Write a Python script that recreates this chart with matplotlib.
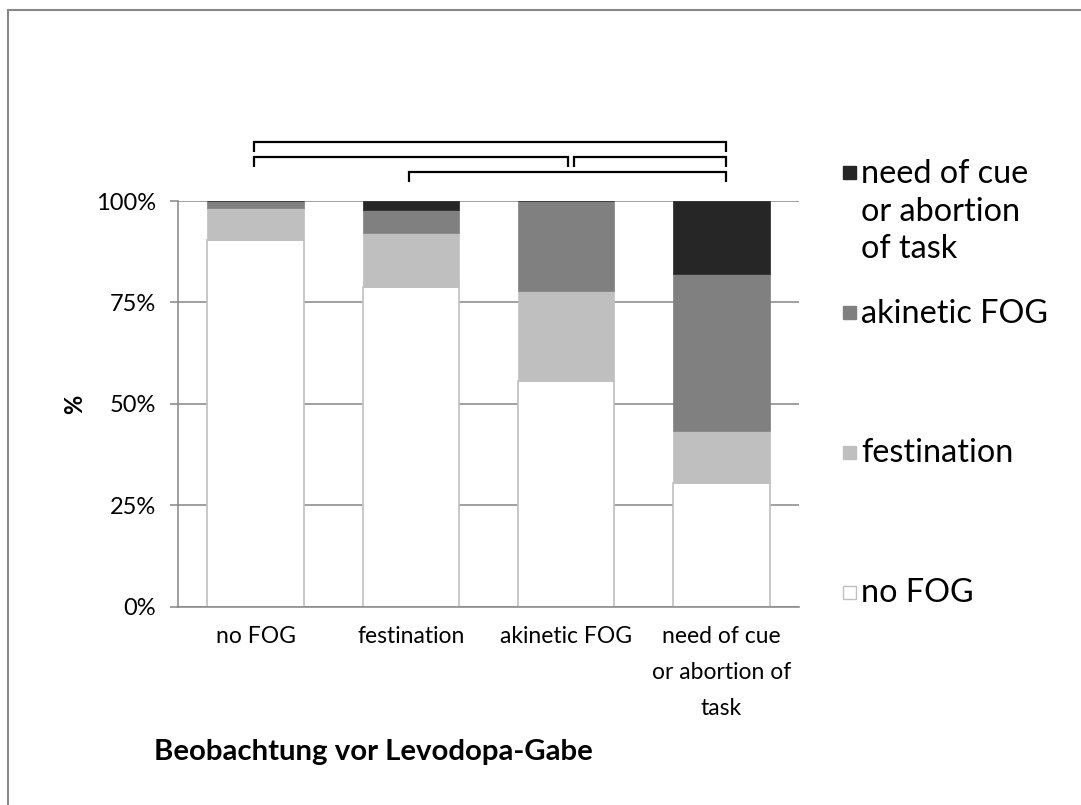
import matplotlib
matplotlib.use("Agg")
import matplotlib.pyplot as plt
from matplotlib.lines import Line2D
from matplotlib.patches import Rectangle
import numpy as np

plt.rcParams['font.family'] = ['Lato', 'DejaVu Sans']

# Observation before levodopa (x groups) and distribution of outcomes (%)
categories = ["no FOG", "festination", "akinetic FOG", "need of cue\nor abortion of\ntask"]
no_fog = [90.3, 78.8, 55.6, 30.4]
festination = [8.0, 13.3, 22.2, 13.0]
akinetic = [1.7, 5.7, 22.2, 38.5]
need_cue = [0.0, 2.2, 0.0, 18.1]

series_names = ["no FOG", "festination", "akinetic FOG", "need of cue\nor abortion\nof task"]
series_values = [no_fog, festination, akinetic, need_cue]
series_colors = ["#ffffff", "#bfbfbf", "#808080", "#262626"]

y_ticks = [0, 25, 50, 75, 100]
y_tick_labels = ["0%", "25%", "50%", "75%", "100%"]

# significance brackets: (from group, to group, level from top)
brackets = [(0, 3, 0), (0, 2, 1), (2, 3, 1), (1, 3, 2)]

W, H = 1081, 805
fig = plt.figure(figsize=(W / 100, H / 100), dpi=100)
fig.patch.set_facecolor("white")

ax = fig.add_axes([178 / W, 1 - 606.7 / H, 621 / W, 405.7 / H])
x = np.arange(len(categories))
bottom = np.zeros(len(categories))
for vals, col in zip(series_values, series_colors):
    vals = np.array(vals)
    if col == "#ffffff":
        ax.bar(x, vals, 0.62, bottom=bottom, color=col, edgecolor="#bfbfbf",
               linewidth=1.2, zorder=3)
    else:
        ax.bar(x, vals, 0.62, bottom=bottom, color=col, edgecolor=col,
               linewidth=0.5, zorder=3)
    bottom += vals

grid_col = "#868686"
ax.set_xlim(-0.5, len(categories) - 0.5)
ax.set_ylim(0, 100)
ax.set_yticks(y_ticks)
ax.set_yticklabels(y_tick_labels, fontsize=17)
ax.set_xticks(x)
ax.set_xticklabels(categories, fontsize=16.5, linespacing=1.88, va="top")
ax.tick_params(axis="y", length=6, width=1.1, color=grid_col, pad=10)
ax.tick_params(axis="x", length=0, pad=14)
ax.yaxis.grid(True, color=grid_col, linewidth=1.1, zorder=0)
ax.set_axisbelow(True)
for s in ["top", "right"]:
    ax.spines[s].set_visible(False)
for s in ["left", "bottom"]:
    ax.spines[s].set_color(grid_col)
    ax.spines[s].set_linewidth(1.1)
    ax.spines[s].set_zorder(4)

# brackets above the bars
levels = [114.5, 110.8, 107.1]
drop = 2.4
for i, j, lvl in brackets:
    x0 = i - 0.01
    if any(b[1] == i and b[2] == lvl for b in brackets):
        x0 = i + 0.05
    x1 = j + 0.03 if j == len(categories) - 1 else j + 0.01
    yb = levels[lvl]
    ax.plot([x0, x0, x1, x1], [yb - drop, yb, yb, yb - drop], color="black",
            linewidth=1.6, clip_on=False, solid_joinstyle="miter",
            solid_capstyle="butt", zorder=5)

# axis titles
fig.text(373 / W, 1 - 752 / H, "Beobachtung vor Levodopa-Gabe", ha="center",
         va="center", fontsize=21.2, fontweight="bold")
fig.text(75 / W, 1 - 404 / H, "%", ha="center", va="center", rotation=90,
         fontsize=17, fontweight="bold")

# legend on the right, top entry = top stack segment
leg_y = [173, 313, 452, 592]
for name, col, yy in zip(series_names[::-1], series_colors[::-1], leg_y):
    sq = 13
    fig.add_artist(Rectangle((843 / W, 1 - (yy + sq / 2) / H), sq / W, sq / H,
                             transform=fig.transFigure, facecolor=col,
                             edgecolor="#bfbfbf" if col == "#ffffff" else col,
                             linewidth=1.0))
    fig.text(861 / W, 1 - (yy - 14) / H, name, ha="left", va="top",
             fontsize=23.3, linespacing=1.32)

# frame around the chart
frame_col = "#878787"
fig.add_artist(Line2D([8 / W, 8 / W], [0, 1 - 10 / H], color=frame_col,
                      linewidth=1.5, transform=fig.transFigure))
fig.add_artist(Line2D([8 / W, 1], [1 - 10 / H, 1 - 10 / H], color=frame_col,
                      linewidth=1.5, transform=fig.transFigure))

fig.savefig("out.png", dpi=100)
